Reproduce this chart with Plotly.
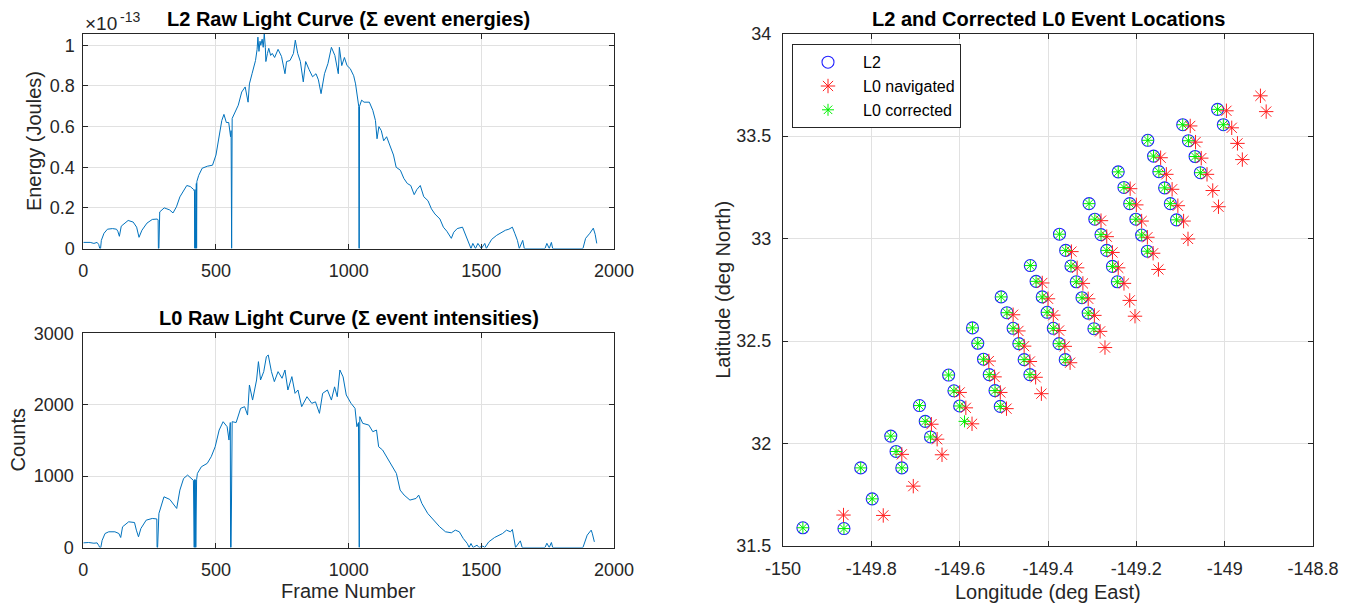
import plotly.graph_objects as go

# ---------------- DATA ----------------
# L2 raw light curve (sum of event energies), in units of 1e-13 J
FRAME_L2 = [0, 26, 40, 52, 58, 62, 65, 68, 78, 91,
            110, 125, 130, 136, 143, 160, 169, 188, 201, 210,
            221, 240, 260, 279, 282, 283, 285, 288, 305, 315,
            325, 338, 351, 364, 377, 390, 403, 416, 419, 420,
            421, 423, 424, 425, 426, 427, 428, 435, 448, 468,
            487, 500, 513, 522, 530, 539, 548, 555, 557, 558,
            559, 561, 571, 584, 597, 610, 621, 626, 636, 649,
            655, 658, 662, 666, 669, 674, 678, 682, 686, 688,
            694, 699, 706, 712, 721, 734, 747, 760, 766, 779,
            792, 799, 808, 818, 829, 838, 851, 864, 877, 886,
            896, 909, 922, 935, 948, 961, 965, 974, 984, 994,
            1006, 1019, 1026, 1032, 1038, 1039, 1040, 1041, 1049, 1058,
            1078, 1091, 1101, 1107, 1114, 1123, 1132, 1143, 1156, 1169,
            1179, 1195, 1208, 1221, 1234, 1247, 1257, 1270, 1283, 1299,
            1312, 1325, 1344, 1357, 1370, 1387, 1396, 1409, 1429, 1442,
            1455, 1461, 1468, 1478, 1487, 1500, 1513, 1519, 1530, 1539,
            1558, 1578, 1591, 1604, 1617, 1626, 1636, 1643, 1656, 1662,
            1740, 1747, 1756, 1764, 1769, 1883, 1893, 1909, 1922, 1929,
            1935]
ENERGY_L2 = [0.03, 0.03, 0.025, 0.03, 0.02, 0.0, 0.0, 0.04, 0.075, 0.095,
             0.098, 0.095, 0.085, 0.06, 0.11, 0.13, 0.138, 0.13, 0.105, 0.055,
             0.09, 0.125, 0.143, 0.145, 0.14, 0.0, 0.0, 0.18, 0.2, 0.195,
             0.19, 0.175, 0.205, 0.254, 0.285, 0.31, 0.305, 0.29, 0.28, 0.0,
             0.29, 0.0, 0.30, 0.0, 0.32, 0.0, 0.33, 0.36, 0.395, 0.405,
             0.41, 0.46, 0.56, 0.63, 0.66, 0.62, 0.62, 0.55, 0.58, 0.0,
             0.0, 0.64, 0.67, 0.705, 0.77, 0.795, 0.72, 0.81, 0.86, 0.925,
             0.98, 1.04, 0.97, 1.02, 1.0, 1.03, 0.99, 1.057, 0.99, 0.92,
             0.96, 0.985, 0.95, 0.96, 0.94, 0.98, 0.945, 0.86, 0.92, 0.925,
             0.96, 1.025, 0.96, 0.92, 0.82, 0.92, 0.88, 0.845, 0.86, 0.83,
             0.762, 0.86, 0.91, 0.99, 0.95, 0.86, 0.99, 0.90, 0.94, 0.90,
             0.885, 0.85, 0.81, 0.74, 0.70, 0.0, 0.0, 0.70, 0.73, 0.72,
             0.72, 0.68, 0.63, 0.54, 0.60, 0.58, 0.53, 0.55, 0.50, 0.46,
             0.40, 0.385, 0.345, 0.32, 0.31, 0.265, 0.29, 0.31, 0.255, 0.235,
             0.195, 0.17, 0.145, 0.105, 0.085, 0.05, 0.08, 0.098, 0.105, 0.06,
             0.025, 0.0, 0.025, 0.0, 0.025, 0.0, 0.025, 0.0, 0.025, 0.045,
             0.065, 0.08, 0.09, 0.095, 0.105, 0.075, 0.04, 0.0, 0.04, 0.0,
             0.0, 0.025, 0.0, 0.03, 0.0, 0.0, 0.05, 0.075, 0.1, 0.07,
             0.025]

# L0 raw light curve (sum of event intensities), counts
FRAME_L0 = [0, 20, 40, 52, 58, 62, 66, 71, 82, 96,
            119, 134, 141, 148, 171, 193, 200, 208, 217, 237,
            260, 277, 278, 280, 285, 304, 326, 341, 352, 364,
            378, 393, 408, 415, 418, 419, 421, 422, 424, 425,
            426, 427, 430, 445, 467, 482, 497, 512, 527, 542,
            549, 554, 555, 557, 561, 576, 593, 608, 619, 626,
            638, 653, 660, 668, 680, 690, 697, 709, 720, 734,
            749, 760, 771, 786, 798, 809, 823, 843, 861, 875,
            890, 902, 920, 935, 947, 957, 967, 979, 991, 1009,
            1024, 1031, 1037, 1038, 1040, 1042, 1053, 1076, 1091, 1105,
            1113, 1128, 1150, 1165, 1180, 1194, 1209, 1231, 1254, 1264,
            1276, 1298, 1321, 1343, 1365, 1387, 1402, 1417, 1432, 1447,
            1454, 1461, 1469, 1484, 1491, 1506, 1513, 1528, 1550, 1565,
            1580, 1595, 1610, 1617, 1629, 1647, 1654, 1740, 1747, 1756,
            1764, 1769, 1883, 1899, 1914, 1918, 1926]
COUNTS_L0 = [65, 70, 60, 65, 30, 0, 0, 100, 196, 220,
             220, 196, 140, 290, 360, 350, 243, 150, 266, 383,
             407, 400, 0, 0, 477, 710, 673, 607, 547, 804,
             967, 1014, 967, 940, 0, 950, 0, 950, 0, 940,
             0, 950, 1037, 1131, 1178, 1271, 1411, 1645, 1762, 1692,
             1505, 1750, 0, 0, 1762, 1750, 1949, 1972, 1855, 2276,
             2065, 2346, 2603, 2346, 2463, 2673, 2696, 2463, 2323, 2463,
             2370, 2486, 2206, 2393, 2159, 2206, 1972, 2112, 2019, 2040,
             1879, 2159, 2206, 2065, 2250, 2112, 2486, 2390, 2136, 2019,
             1949, 1692, 1750, 0, 0, 1832, 1739, 1715, 1622, 1645,
             1411, 1365, 1224, 1131, 1037, 804, 734, 664, 687, 734,
             617, 477, 383, 290, 220, 206, 243, 220, 126, 56,
             0, 56, 0, 33, 0, 20, 0, 79, 140, 173,
             196, 243, 220, 252, 0, 93, 0, 0, 60, 0,
             70, 0, 0, 173, 243, 200, 79]

# L2 event locations
L2_LON = [-149.955, -149.862, -149.824, -149.798, -149.756, -149.744, -149.731,
          -149.691, -149.678, -149.666, -149.625, -149.613, -149.600,
          -149.571, -149.559, -149.546, -149.533, -149.520, -149.508,
          -149.506, -149.493, -149.479, -149.466, -149.454, -149.441,
          -149.440, -149.427, -149.413, -149.402, -149.388, -149.375, -149.361,
          -149.374, -149.360, -149.348, -149.336, -149.323, -149.309, -149.296,
          -149.307, -149.294, -149.280, -149.267, -149.254, -149.243,
          -149.241, -149.228, -149.215, -149.201, -149.188, -149.175,
          -149.174, -149.161, -149.149, -149.136, -149.123, -149.109,
          -149.095, -149.082, -149.067, -149.055, -149.016, -149.003]
L2_LAT = [31.589, 31.585, 31.881, 31.730, 32.036, 31.961, 31.881,
          32.185, 32.108, 32.032, 32.334, 32.257, 32.183,
          32.564, 32.489, 32.411, 32.336, 32.258, 32.181,
          32.715, 32.638, 32.562, 32.487, 32.409, 32.336,
          32.868, 32.791, 32.715, 32.640, 32.562, 32.487, 32.409,
          33.021, 32.942, 32.866, 32.789, 32.711, 32.636, 32.560,
          33.170, 33.094, 33.019, 32.942, 32.864, 32.789,
          33.325, 33.249, 33.170, 33.094, 33.017, 32.938,
          33.479, 33.402, 33.326, 33.247, 33.170, 33.091,
          33.555, 33.477, 33.400, 33.321, 33.630, 33.555]

# L0 navigated event locations
L0_NAV_LON = [-149.863, -149.773, -149.705, -149.731, -149.640, -149.651, -149.664,
              -149.600, -149.586, -149.572, -149.534, -149.521, -149.508, -149.494,
              -149.479, -149.467, -149.454, -149.441, -149.428, -149.415,
              -149.413, -149.400, -149.388, -149.375, -149.362, -149.350,
              -149.347, -149.334, -149.321, -149.309, -149.295, -149.282, -149.271,
              -149.280, -149.267, -149.254, -149.241, -149.228, -149.215, -149.203,
              -149.214, -149.200, -149.188, -149.175, -149.162, -149.150,
              -149.145, -149.132, -149.119, -149.106, -149.093, -149.083,
              -149.078, -149.066, -149.053, -149.040, -149.027, -149.014,
              -148.996, -148.984, -148.971, -148.960, -148.919, -148.906]
L0_NAV_LAT = [31.651, 31.649, 31.792, 31.947, 31.945, 32.021, 32.094,
              32.249, 32.174, 32.096, 32.402, 32.325, 32.249, 32.170,
              32.628, 32.549, 32.475, 32.400, 32.323, 32.243,
              32.783, 32.706, 32.626, 32.551, 32.474, 32.394,
              32.936, 32.857, 32.781, 32.706, 32.625, 32.547, 32.468,
              33.087, 33.009, 32.932, 32.857, 32.781, 32.698, 32.621,
              33.243, 33.164, 33.085, 33.006, 32.928, 32.849,
              33.394, 33.313, 33.240, 33.160, 33.085, 32.998,
              33.549, 33.470, 33.392, 33.313, 33.234, 33.155,
              33.623, 33.540, 33.464, 33.385, 33.696, 33.619]

# L0 corrected event locations
L0_COR_LON = L2_LON + [-149.589]
L0_COR_LAT = L2_LAT + [32.108]

# Tick labels
LC_X_TICKS = [0, 500, 1000, 1500, 2000]
E_TICKS = [0, 0.2, 0.4, 0.6, 0.8, 1.0]
E_TICK_TEXT = ["0", "0.2", "0.4", "0.6", "0.8", "1"]
C_TICKS = [0, 1000, 2000, 3000]
LON_TICKS = [-150, -149.8, -149.6, -149.4, -149.2, -149, -148.8]
LON_TICK_TEXT = ["-150", "-149.8", "-149.6", "-149.4", "-149.2", "-149", "-148.8"]
LAT_TICKS = [31.5, 32, 32.5, 33, 33.5, 34]
LAT_TICK_TEXT = ["31.5", "32", "32.5", "33", "33.5", "34"]

# ---------------- LAYOUT HELPERS ----------------
# The page body has an 8px margin, so the figure is sized to fill the rest of the window.
OFF = 8
W, H = 1355 - OFF, 607 - OFF
FONT = "Liberation Sans, Arial, Helvetica, sans-serif"
AX_COL = "#262626"


def px(xp):
    return (xp - OFF) / W


def py(yp):
    return 1 - (yp - OFF) / H


def dom_x(a, b):
    return [px(a), px(b)]


def dom_y(top, bottom):
    return [py(bottom), py(top)]


def axis_style(**kw):
    d = dict(showline=True, linecolor=AX_COL, linewidth=1, mirror="ticks",
             ticks="inside", ticklen=5, tickcolor=AX_COL, tickwidth=1,
             showgrid=True, gridcolor="#e1e1e1", gridwidth=1, zeroline=False,
             tickfont=dict(family=FONT, size=18, color=AX_COL),
             automargin=False, fixedrange=True)
    d.update(kw)
    return d


LINE_BLUE = "#0072BD"

fig = go.Figure()
fig.add_trace(go.Scatter(x=FRAME_L2, y=ENERGY_L2, mode="lines",
                         line=dict(color=LINE_BLUE, width=1),
                         xaxis="x", yaxis="y", showlegend=False))
fig.add_trace(go.Scatter(x=FRAME_L0, y=COUNTS_L0, mode="lines",
                         line=dict(color=LINE_BLUE, width=1),
                         xaxis="x2", yaxis="y2", showlegend=False))
fig.add_trace(go.Scatter(x=L2_LON, y=L2_LAT, mode="markers", name="L2",
                         marker=dict(symbol="circle-open", size=12, color="#2020FF",
                                     line=dict(width=1.1, color="#2020FF")),
                         xaxis="x3", yaxis="y3"))
fig.add_trace(go.Scatter(x=L0_NAV_LON, y=L0_NAV_LAT, mode="markers", name="L0 navigated",
                         marker=dict(symbol="asterisk-open", size=12, color="#FF2020",
                                     line=dict(width=1, color="#FF2020")),
                         xaxis="x3", yaxis="y3"))
fig.add_trace(go.Scatter(x=L0_COR_LON, y=L0_COR_LAT, mode="markers", name="L0 corrected",
                         marker=dict(symbol="asterisk-open", size=10, color="#00F000",
                                     line=dict(width=1, color="#00F000")),
                         xaxis="x3", yaxis="y3"))

L_X0, L_X1 = 83.3, 614.0
T_Y0, T_Y1 = 33.7, 248.5
B_Y0, B_Y1 = 333.3, 547.5
R_X0, R_X1 = 783.0, 1313.0
R_Y0, R_Y1 = 33.5, 546.0

fig.update_layout(
    width=W, height=H, margin=dict(l=0, r=0, t=0, b=0),
    paper_bgcolor="white", plot_bgcolor="white",
    font=dict(family=FONT, color=AX_COL),
    xaxis=axis_style(domain=dom_x(L_X0, L_X1), range=[0, 2000], tickvals=LC_X_TICKS,
                     anchor="y", ticklabelstandoff=6),
    yaxis=axis_style(domain=dom_y(T_Y0, T_Y1), range=[0, 1.057], tickvals=E_TICKS,
                     ticktext=E_TICK_TEXT, anchor="x", ticklabelstandoff=4),
    xaxis2=axis_style(domain=dom_x(L_X0, L_X1), range=[0, 2000], tickvals=LC_X_TICKS,
                      anchor="y2", ticklabelstandoff=6),
    yaxis2=axis_style(domain=dom_y(B_Y0, B_Y1), range=[0, 3000], tickvals=C_TICKS,
                      anchor="x2", ticklabelstandoff=5),
    xaxis3=axis_style(domain=dom_x(R_X0, R_X1), range=[-150, -148.8], tickvals=LON_TICKS,
                      ticktext=LON_TICK_TEXT, anchor="y3", ticklabelstandoff=6),
    yaxis3=axis_style(domain=dom_y(R_Y0, R_Y1), range=[31.5, 34], tickvals=LAT_TICKS,
                      ticktext=LAT_TICK_TEXT, anchor="x3", ticklabelstandoff=7),
    legend=dict(x=px(792), y=py(44.3), xanchor="left", yanchor="top",
                bgcolor="white", bordercolor=AX_COL, borderwidth=1,
                font=dict(family=FONT, size=16, color="#000000"),
                itemwidth=60, tracegroupgap=0),
)

TITLE_FONT = dict(family=FONT, size=20, color="#000000")
LABEL_FONT = dict(family=FONT, size=20, color=AX_COL)


def ann(text, x_px, y_px, font, angle=0, xanchor="center", yanchor="middle"):
    fig.add_annotation(text=text, x=px(x_px), y=py(y_px), xref="paper", yref="paper",
                       showarrow=False, font=font, textangle=angle,
                       xanchor=xanchor, yanchor=yanchor)


ann("<b>L2 Raw Light Curve (Σ event energies)</b>", (L_X0 + L_X1) / 2, 19, TITLE_FONT)
ann("<b>L0 Raw Light Curve (Σ event intensities)</b>", (L_X0 + L_X1) / 2, 318, TITLE_FONT)
ann("<b>L2 and Corrected L0 Event Locations</b>", (R_X0 + R_X1) / 2, 19, TITLE_FONT)
ann("×10", 83, 23, dict(family=FONT, size=19, color=AX_COL), xanchor="left")
ann("-13", 118, 17, dict(family=FONT, size=14, color=AX_COL), xanchor="left")
ann("Energy (Joules)", 34, (T_Y0 + T_Y1) / 2, LABEL_FONT, angle=-90)
ann("Counts", 18, (B_Y0 + B_Y1) / 2, LABEL_FONT, angle=-90)
ann("Frame Number", (L_X0 + L_X1) / 2, 591, LABEL_FONT)
ann("Longitude (deg East)", (R_X0 + R_X1) / 2, 592, LABEL_FONT)
ann("Latitude (deg North)", 723, (R_Y0 + R_Y1) / 2, LABEL_FONT, angle=-90)

fig.write_html("out.html")
